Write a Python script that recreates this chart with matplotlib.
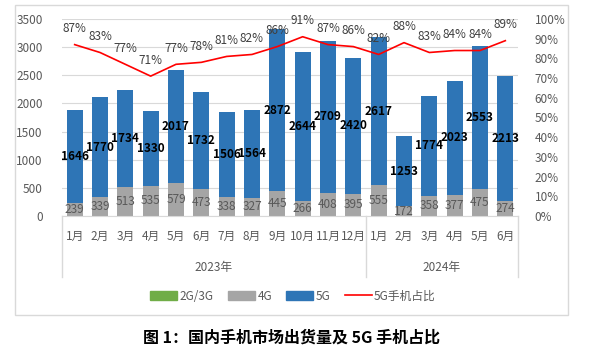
import matplotlib
matplotlib.use("Agg")
import matplotlib.pyplot as plt
from matplotlib.patches import Rectangle, Patch
from matplotlib.lines import Line2D
import matplotlib.transforms as mtransforms

plt.rcParams['font.family'] = ['Noto Sans CJK SC', 'DejaVu Sans']

months = ["1月", "2月", "3月", "4月", "5月", "6月", "7月", "8月", "9月", "10月", "11月", "12月",
          "1月", "2月", "3月", "4月", "5月", "6月"]
years = ["2023年", "2024年"]
year_counts = [12, 6]
g23 = [0] * 18
g4 = [239, 339, 513, 535, 579, 473, 338, 327, 445, 266, 408, 395, 555, 172, 358, 377, 475, 274]
g5 = [1646, 1770, 1734, 1330, 2017, 1732, 1506, 1564, 2872, 2644, 2709, 2420, 2617, 1253, 1774, 2023, 2553, 2213]
share = [87, 83, 77, 71, 77, 78, 81, 82, 86, 91, 87, 86, 82, 88, 83, 84, 84, 89]

C_GREEN = "#70AD47"
C_GRAY = "#A5A5A5"
C_BLUE = "#2E75B6"
C_RED = "#FF0000"
C_TXT = "#595959"

W, H = 604, 355
fig = plt.figure(figsize=(W / 100, H / 100), dpi=100)

# chart box
fig.patches.append(Rectangle((15 / W, 1 - 315 / H), (568 - 15) / W, (315 - 5) / H,
                             transform=fig.transFigure, fill=False, edgecolor="#D9D9D9", lw=1))

ax = fig.add_axes([62 / W, 1 - 216 / H, (518 - 62) / W, (216 - 19) / H])
x = list(range(len(months)))
bw = 0.62
ax.bar(x, g23, bw, color=C_GREEN, zorder=2)
ax.bar(x, g4, bw, bottom=g23, color=C_GRAY, zorder=2)
b5 = [a + b for a, b in zip(g23, g4)]
ax.bar(x, g5, bw, bottom=b5, color=C_BLUE, zorder=2)

for i in x:
    ax.text(i, g4[i] / 2, str(g4[i]), ha="center", va="center", fontsize=8.5, color=C_TXT, zorder=5)
    ax.text(i, b5[i] + g5[i] / 2, str(g5[i]), ha="center", va="center", fontsize=8.5,
            color="black", fontweight="bold", zorder=5)

ax.set_ylim(0, 3500)
ax.set_xlim(-0.5, len(months) - 0.5)
ax.set_yticks(range(0, 3501, 500))
ax.yaxis.grid(True, color="#D9D9D9", lw=0.8, zorder=0)
ax.set_axisbelow(True)
for s in ["top", "right", "left"]:
    ax.spines[s].set_visible(False)
ax.spines["bottom"].set_color("#D9D9D9")
ax.tick_params(axis="y", length=0, labelsize=8.5, labelcolor=C_TXT, pad=14)
ax.set_xticks(x)
ax.set_xticklabels(months)
ax.tick_params(axis="x", length=0, labelsize=8.5, labelcolor=C_TXT, pad=10)

# category separators and year labels
trans = mtransforms.blended_transform_factory(ax.transData, ax.transAxes)
bounds = [-0.5]
for c in year_counts:
    bounds.append(bounds[-1] + c)
for bx in bounds:
    ax.plot([bx, bx], [0, -61 / 197], transform=trans, color="#D9D9D9", lw=1, clip_on=False)
for k, yl in enumerate(years):
    cx = (bounds[k] + bounds[k + 1]) / 2
    ax.text(cx, -51 / 197, yl, transform=trans, ha="center", va="center", fontsize=8.5, color=C_TXT)

ax2 = ax.twinx()
ax2.plot(x, share, color=C_RED, lw=1.2, zorder=4)
ax2.set_ylim(0, 100)
ax2.set_yticks(range(0, 101, 10))
ax2.set_yticklabels([f"{v}%" for v in range(0, 101, 10)])
ax2.tick_params(axis="y", length=0, labelsize=8.5, labelcolor=C_TXT, pad=12)
for s in ["top", "right", "left", "bottom"]:
    ax2.spines[s].set_visible(False)
for i in x:
    ax2.annotate(f"{share[i]}%", (i, share[i]), xytext=(0, 11.5), textcoords="offset points",
                 ha="center", va="center", fontsize=8.5, color="#404040", zorder=6)

handles = [Patch(color=C_GREEN, label="2G/3G"), Patch(color=C_GRAY, label="4G"),
           Patch(color=C_BLUE, label="5G"), Line2D([], [], color=C_RED, lw=1.2, label="5G手机占比")]
fig.legend(handles=handles, loc="center", bbox_to_anchor=(293 / W, 1 - 296 / H), ncol=4,
           frameon=False, fontsize=8.5, handlelength=2.3, handleheight=0.7, columnspacing=1.2,
           handletextpad=0.2, labelcolor=C_TXT)

fig.text(292 / W, 1 - 338 / H, "图 1：国内手机市场出货量及 5G 手机占比", ha="center", va="center",
         fontsize=11.5, fontweight="bold", color="black")

fig.savefig("out.png", dpi=100)
